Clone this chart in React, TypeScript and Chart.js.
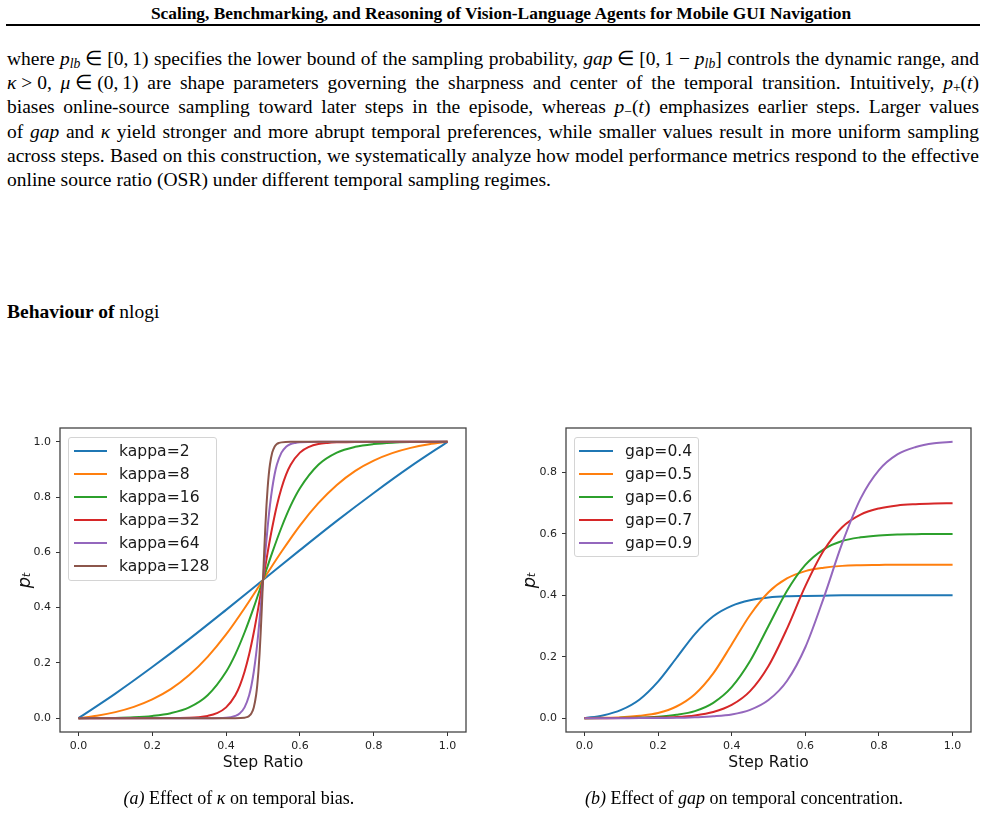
import React, { useEffect, useRef } from "react";
import { Chart, registerables } from "chart.js";

Chart.register(...registerables);
Chart.defaults.font.family = "'DejaVu Sans', sans-serif";

// ---------- (a) sharpness sweep ----------
const kappaLabels = ["kappa=2", "kappa=8", "kappa=16", "kappa=32", "kappa=64", "kappa=128"];

const kappa2X = [0, 0.1, 0.2, 0.3, 0.4, 0.5, 0.6, 0.7, 0.8, 0.9, 1];
const kappa2Y = [0, 0.089, 0.185, 0.286, 0.392, 0.5, 0.608, 0.714, 0.815, 0.911, 1];

const kappa8X = [0, 0.05, 0.1, 0.15, 0.2, 0.25, 0.3, 0.35, 0.4, 0.45, 0.5, 0.55, 0.6, 0.65, 0.7, 0.75, 0.8, 0.85, 0.9, 0.95, 1];
const kappa8Y = [0, 0.009, 0.022, 0.041, 0.068, 0.105, 0.156, 0.222, 0.303, 0.398, 0.5, 0.602, 0.697, 0.778, 0.844, 0.895, 0.932, 0.959, 0.978, 0.991, 1];

const kappa16X = [0, 0.1, 0.15, 0.2, 0.25, 0.3, 0.35, 0.4, 0.425, 0.45, 0.475, 0.5, 0.525, 0.55, 0.575, 0.6, 0.65, 0.7, 0.75, 0.8, 0.85, 0.9, 1];
const kappa16Y = [0, 0.001, 0.003, 0.008, 0.018, 0.039, 0.083, 0.168, 0.231, 0.31, 0.401, 0.5, 0.599, 0.69, 0.769, 0.832, 0.917, 0.961, 0.982, 0.992, 0.997, 0.999, 1];

const kappa32X = [0, 0.25, 0.3, 0.325, 0.35, 0.375, 0.4, 0.425, 0.4375, 0.45, 0.4625, 0.475, 0.4875, 0.5, 0.5125, 0.525, 0.5375, 0.55, 0.5625, 0.575, 0.6, 0.625, 0.65, 0.675, 0.7, 0.75, 1];
const kappa32Y = [0, 0.0003, 0.0017, 0.0037, 0.0082, 0.018, 0.039, 0.083, 0.119, 0.168, 0.231, 0.31, 0.401, 0.5, 0.599, 0.69, 0.769, 0.832, 0.881, 0.917, 0.961, 0.982, 0.992, 0.996, 0.998, 0.9997, 1];

const kappa64X = [0, 0.35, 0.4, 0.4125, 0.425, 0.4375, 0.45, 0.4625, 0.46875, 0.475, 0.48125, 0.4875, 0.49375, 0.5, 0.50625, 0.5125, 0.51875, 0.525, 0.53125, 0.5375, 0.55, 0.5625, 0.575, 0.5875, 0.6, 0.65, 1];
const kappa64Y = [0, 0.0001, 0.0017, 0.0037, 0.0082, 0.018, 0.039, 0.083, 0.119, 0.168, 0.231, 0.31, 0.401, 0.5, 0.599, 0.69, 0.769, 0.832, 0.881, 0.917, 0.961, 0.982, 0.992, 0.996, 0.998, 0.9999, 1];

const kappa128X = [0, 0.425, 0.45, 0.45625, 0.4625, 0.46875, 0.475, 0.48125, 0.484375, 0.4875, 0.490625, 0.49375, 0.496875, 0.5, 0.503125, 0.50625, 0.509375, 0.5125, 0.515625, 0.51875, 0.525, 0.53125, 0.5375, 0.54375, 0.55, 0.575, 1];
const kappa128Y = [0, 0.0001, 0.0017, 0.0037, 0.0082, 0.018, 0.039, 0.083, 0.119, 0.168, 0.231, 0.31, 0.401, 0.5, 0.599, 0.69, 0.769, 0.832, 0.881, 0.917, 0.961, 0.982, 0.992, 0.996, 0.998, 0.9999, 1];

// ---------- (b) dynamic-range sweep ----------
const gapLabels = ["gap=0.4", "gap=0.5", "gap=0.6", "gap=0.7", "gap=0.9"];
const gapX = [0, 0.05, 0.1, 0.15, 0.2, 0.25, 0.3, 0.35, 0.4, 0.45, 0.5, 0.55, 0.6, 0.65, 0.7, 0.75, 0.8, 0.85, 0.9, 0.95, 1];
const gap04Y = [0, 0.009, 0.027, 0.061, 0.119, 0.196, 0.274, 0.332, 0.366, 0.384, 0.393, 0.397, 0.398, 0.399, 0.4, 0.4, 0.4, 0.4, 0.4, 0.4, 0.4];
const gap05Y = [0, 0.001, 0.003, 0.008, 0.017, 0.038, 0.078, 0.146, 0.24, 0.336, 0.41, 0.455, 0.479, 0.49, 0.496, 0.498, 0.499, 0.5, 0.5, 0.5, 0.5];
const gap06Y = [0, 0.0002, 0.001, 0.002, 0.005, 0.011, 0.023, 0.05, 0.101, 0.186, 0.3, 0.414, 0.499, 0.55, 0.577, 0.589, 0.595, 0.598, 0.599, 0.6, 0.6];
const gap07Y = [0, 0.0001, 0.0003, 0.001, 0.002, 0.004, 0.009, 0.02, 0.043, 0.088, 0.17, 0.291, 0.43, 0.546, 0.622, 0.663, 0.683, 0.693, 0.697, 0.699, 0.7];
const gap09Y = [0, 0, 0.0001, 0.0002, 0.0005, 0.001, 0.003, 0.006, 0.012, 0.027, 0.059, 0.121, 0.231, 0.392, 0.569, 0.715, 0.808, 0.859, 0.883, 0.895, 0.9];

// ---------- axes ----------
const stepTicks = [0, 0.2, 0.4, 0.6, 0.8, 1.0];
const kappaYTicks = [0, 0.2, 0.4, 0.6, 0.8, 1.0];
const gapYTicks = [0, 0.2, 0.4, 0.6, 0.8];

const palette = ["#1f77b4", "#ff7f0e", "#2ca02c", "#d62728", "#9467bd", "#8c564b"];

type Series = { label: string; color: string; xs: number[]; ys: number[] };

const kappaSeries: Series[] = [
  [kappa2X, kappa2Y],
  [kappa8X, kappa8Y],
  [kappa16X, kappa16Y],
  [kappa32X, kappa32Y],
  [kappa64X, kappa64Y],
  [kappa128X, kappa128Y],
].map(([xs, ys], i) => ({ label: kappaLabels[i], color: palette[i], xs, ys }));

const gapSeries: Series[] = [gap04Y, gap05Y, gap06Y, gap07Y, gap09Y].map((ys, i) => ({
  label: gapLabels[i],
  color: palette[i],
  xs: gapX,
  ys,
}));

// Full box around the plotting area (all four spines)
const framePlugin = {
  id: "frame",
  afterDraw(chart: any) {
    const { ctx, chartArea } = chart;
    const { left, top, right, bottom } = chartArea;
    ctx.save();
    ctx.strokeStyle = "#444";
    ctx.lineWidth = 1.3;
    ctx.strokeRect(left, top, right - left, bottom - top);
    ctx.restore();
  },
};

type Area = { left: number; right: number; top: number; bottom: number };

type PanelProps = {
  series: Series[];
  x: number;
  y: number;
  width: number;
  height: number;
  area: Area;
  xRange: [number, number];
  yRange: [number, number];
  xTicks: number[];
  yTicks: number[];
  yTitlePad: number;
};

function Panel({ series, x, y, width, height, area, xRange, yRange, xTicks, yTicks, yTitlePad }: PanelProps) {
  const ref = useRef<HTMLCanvasElement>(null);

  useEffect(() => {
    const n = series.length;
    const tickGrid = {
      display: true,
      drawOnChartArea: false,
      drawTicks: true,
      tickLength: 4,
      tickWidth: 1,
      tickColor: "#333",
      color: "#333",
      lineWidth: 1,
    };
    const chart = new Chart(ref.current as HTMLCanvasElement, {
      type: "line",
      data: {
        datasets: series.map((s, i) => ({
          label: s.label,
          data: s.xs.map((xv, j) => ({ x: xv, y: s.ys[j] })),
          borderColor: s.color,
          backgroundColor: s.color,
          borderWidth: 2,
          pointRadius: 0,
          fill: false,
          cubicInterpolationMode: "monotone",
          order: n - i,
        })),
      },
      options: {
        responsive: false,
        maintainAspectRatio: false,
        animation: false,
        devicePixelRatio: 1,
        events: [],
        layout: { padding: { left: 0, top: area.top, right: width - area.right, bottom: 0 } },
        plugins: { legend: { display: false }, tooltip: { enabled: false } },
        scales: {
          x: {
            type: "linear",
            min: xRange[0],
            max: xRange[1],
            afterBuildTicks: (s: any) => {
              s.ticks = xTicks.map((v) => ({ value: v }));
            },
            afterFit: (s: any) => {
              s.height = height - area.bottom;
            },
            ticks: {
              autoSkip: false,
              maxRotation: 0,
              padding: 4,
              color: "#222",
              font: { size: 11 },
              callback: (v: any) => Number(v).toFixed(1),
            },
            grid: tickGrid,
            border: { display: false },
            title: {
              display: true,
              text: "Step Ratio",
              color: "#111",
              font: { size: 15.6 },
              padding: { top: 0, bottom: 28 },
            },
          },
          y: {
            type: "linear",
            min: yRange[0],
            max: yRange[1],
            afterBuildTicks: (s: any) => {
              s.ticks = yTicks.map((v) => ({ value: v }));
            },
            afterFit: (s: any) => {
              s.width = area.left;
            },
            ticks: {
              autoSkip: false,
              padding: 5,
              color: "#222",
              font: { size: 11 },
              callback: (v: any) => Number(v).toFixed(1),
            },
            grid: tickGrid,
            border: { display: false },
            title: {
              display: true,
              text: "pₜ",
              color: "#111",
              font: { size: 18, style: "italic" },
              padding: { top: yTitlePad, bottom: 0 },
            },
          },
        },
      } as any,
      plugins: [framePlugin],
    });
    return () => chart.destroy();
  }, []);

  return (
    <canvas
      ref={ref}
      width={width}
      height={height}
      style={{ position: "absolute", left: x, top: y, width, height }}
    />
  );
}

type LegendProps = {
  series: Series[];
  box: { left: number; top: number; width: number; height: number };
  lineX0: number;
  lineX1: number;
  textX: number;
  rowY0: number;
  rowStep: number;
};

function Legend({ series, box, lineX0, lineX1, textX, rowY0, rowStep }: LegendProps) {
  return (
    <>
      <div
        style={{
          position: "absolute",
          left: box.left,
          top: box.top,
          width: box.width,
          height: box.height,
          boxSizing: "border-box",
          border: "1px solid #d4d4d4",
          borderRadius: 3,
          background: "rgba(255,255,255,0.8)",
        }}
      />
      {series.map((s, i) => {
        const cy = rowY0 + rowStep * i;
        return (
          <React.Fragment key={s.label}>
            <div
              style={{
                position: "absolute",
                left: lineX0,
                top: cy - 1,
                width: lineX1 - lineX0,
                height: 2,
                background: s.color,
              }}
            />
            <div
              style={{
                position: "absolute",
                left: textX,
                top: cy - 10,
                height: 20,
                lineHeight: "20px",
                fontFamily: "'DejaVu Sans', sans-serif",
                fontSize: 15.6,
                color: "#1a1a1a",
                whiteSpace: "nowrap",
              }}
            >
              {s.label}
            </div>
          </React.Fragment>
        );
      })}
    </>
  );
}

const serif = "'Liberation Serif', 'Times New Roman', serif";

// math spacing that justification does not stretch
const thin = "\u2009";
const med = "\u2005";

const lineStyle = (i: number, last = false): React.CSSProperties => ({
  position: "absolute",
  left: 7,
  top: 47 + 24.2 * i,
  width: 972,
  height: 24,
  lineHeight: "24px",
  fontFamily: serif,
  fontSize: 19.5,
  color: "#000",
  textAlign: last ? "left" : "justify",
  textAlignLast: last ? "left" : "justify",
  whiteSpace: "nowrap",
});

const subStyle: React.CSSProperties = { fontSize: "0.7em", verticalAlign: "-0.25em", lineHeight: 0 };

export default function App() {
  return (
    <div
      style={{
        position: "absolute",
        left: 0,
        top: 0,
        width: 986,
        height: 826,
        background: "#fff",
        overflow: "hidden",
      }}
    >
      <div
        style={{
          position: "absolute",
          left: 8,
          top: 3,
          width: 986,
          textAlign: "center",
          fontFamily: serif,
          fontWeight: "bold",
          fontSize: 17.4,
          lineHeight: "20px",
          whiteSpace: "nowrap",
        }}
      >
        Scaling, Benchmarking, and Reasoning of Vision-Language Agents for Mobile GUI Navigation
      </div>
      <div style={{ position: "absolute", left: 6, top: 24, width: 974, height: 2, background: "#000" }} />

      <div style={lineStyle(0)}>
        where{" "}
        <span style={{ whiteSpace: "nowrap" }}>
          <i>p</i>
          <sub style={subStyle}>
            <i>lb</i>
          </sub>
          {med}∈{med}[0,{thin}1)
        </span>{" "}
        specifies the lower bound of the sampling probability,{" "}
        <span style={{ whiteSpace: "nowrap" }}>
          <i>gap</i>
          {med}∈{med}[0,{thin}1{med}−{med}
          <i>p</i>
          <sub style={subStyle}>
            <i>lb</i>
          </sub>
          ]
        </span>{" "}
        controls the dynamic range, and
      </div>
      <div style={lineStyle(1)}>
        <span style={{ whiteSpace: "nowrap" }}>
          <i>κ</i>
          {med}&gt;{med}0,
        </span>{" "}
        <span style={{ whiteSpace: "nowrap" }}>
          <i>μ</i>
          {med}∈{med}(0,{thin}1)
        </span>{" "}
        are shape parameters governing the sharpness and center of the temporal transition. Intuitively,{" "}
        <span style={{ whiteSpace: "nowrap" }}>
          <i>p</i>
          <sub style={subStyle}>+</sub>(<i>t</i>)
        </span>
      </div>
      <div style={lineStyle(2)}>
        biases online-source sampling toward later steps in the episode, whereas{" "}
        <span style={{ whiteSpace: "nowrap" }}>
          <i>p</i>
          <sub style={subStyle}>−</sub>(<i>t</i>)
        </span>{" "}
        emphasizes earlier steps. Larger values
      </div>
      <div style={lineStyle(3)}>
        of <i>gap</i> and <i>κ</i> yield stronger and more abrupt temporal preferences, while smaller values result in
        more uniform sampling
      </div>
      <div style={lineStyle(4)}>
        across steps. Based on this construction, we systematically analyze how model performance metrics respond to
        the effective
      </div>
      <div style={lineStyle(5, true)}>online source ratio (OSR) under different temporal sampling regimes.</div>

      <div
        style={{
          position: "absolute",
          left: 7,
          top: 300,
          height: 24,
          lineHeight: "24px",
          fontFamily: serif,
          fontSize: 19.5,
          whiteSpace: "nowrap",
        }}
      >
        <b>Behaviour of</b> nlogi
      </div>

      <Panel
        series={kappaSeries}
        x={0}
        y={400}
        width={480}
        height={400}
        area={{ left: 60, right: 466, top: 28, bottom: 332 }}
        xRange={[-0.05, 1.05]}
        yRange={[-0.05, 1.05]}
        xTicks={stepTicks}
        yTicks={kappaYTicks}
        yTitlePad={15}
      />
      <Legend
        series={kappaSeries}
        box={{ left: 68, top: 437, width: 149, height: 144 }}
        lineX0={74}
        lineX1={107}
        textX={119}
        rowY0={450.7}
        rowStep={23}
      />

      <Panel
        series={gapSeries}
        x={500}
        y={400}
        width={486}
        height={400}
        area={{ left: 66, right: 471, top: 28, bottom: 332 }}
        xRange={[-0.05, 1.05]}
        yRange={[-0.045, 0.945]}
        xTicks={stepTicks}
        yTicks={gapYTicks}
        yTitlePad={20}
      />
      <Legend
        series={gapSeries}
        box={{ left: 574, top: 437, width: 125, height: 120 }}
        lineX0={579}
        lineX1={613}
        textX={625}
        rowY0={450.7}
        rowStep={23}
      />

      <div
        style={{
          position: "absolute",
          left: 0,
          top: 787,
          width: 478,
          textAlign: "center",
          fontFamily: serif,
          fontSize: 18,
          lineHeight: "22px",
        }}
      >
        <i>(a)</i> Effect of <i>κ</i> on temporal bias.
      </div>
      <div
        style={{
          position: "absolute",
          left: 500,
          top: 787,
          width: 488,
          textAlign: "center",
          fontFamily: serif,
          fontSize: 18,
          lineHeight: "22px",
        }}
      >
        <i>(b)</i> Effect of <i>gap</i> on temporal concentration.
      </div>
    </div>
  );
}
